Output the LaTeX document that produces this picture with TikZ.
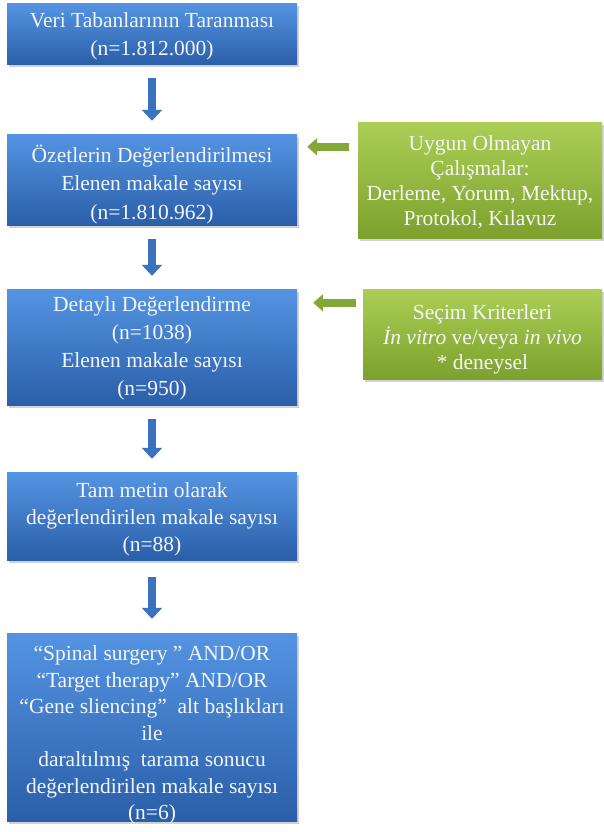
\documentclass[tikz,border=0pt]{standalone}
\usepackage{fontspec}
\setmainfont{Liberation Serif}
\newfontfamily\tnrfont{Liberation Serif}
\usetikzlibrary{calc,arrows.meta,shadows}
\definecolor{bluetop}{RGB}{84,148,226}
\definecolor{bluebot}{RGB}{42,94,168}
\definecolor{greentop}{RGB}{172,206,86}
\definecolor{greenbot}{RGB}{124,160,44}
\definecolor{txtc}{RGB}{244,246,250}
\definecolor{barrowc}{RGB}{58,114,190}
\definecolor{garrowc}{RGB}{132,168,56}
\begin{document}
\begin{tikzpicture}[x=1pt,y=1pt,
  bluebox/.style={draw=none, top color=bluetop, bottom color=bluebot, inner sep=0pt,
    drop shadow={shadow xshift=1.5pt, shadow yshift=-2.5pt, opacity=0.35}},
  greenbox/.style={bluebox, top color=greentop, bottom color=greenbot},
  boxtext/.style={text=txtc, align=center, inner sep=0pt, font=\tnrfont\fontsize{21.5}{28}\selectfont},
  greentext/.style={boxtext, font=\tnrfont\fontsize{21.5}{25}\selectfont},
  barrow/.style={line width=8pt, draw=barrowc, -{Triangle[width=20pt,length=11pt]}},
  garrow/.style={line width=8pt, draw=garrowc, -{Triangle[width=17pt,length=10pt]}}]
\useasboundingbox[fill=white] (0,0) rectangle (604,832);

\node[bluebox, minimum width=290pt, minimum height=61pt] (b1) at (152,797.5) {};
\node[bluebox, minimum width=290pt, minimum height=91pt] (b2) at (152,651.5) {};
\node[bluebox, minimum width=290pt, minimum height=116pt] (b3) at (152,484) {};
\node[bluebox, minimum width=290pt, minimum height=88pt] (b4) at (152,315) {};
\node[bluebox, minimum width=290pt, minimum height=188pt] (b5) at (152,104) {};
\node[greenbox, minimum width=244pt, minimum height=116pt] (g1) at (480,651) {};
\node[greenbox, minimum width=239pt, minimum height=90pt] (g2) at (482.5,497) {};

\node[boxtext] (t1) at ($(b1.center)+(0,-2)$)
  {Veri Tabanlarının Taranması\\(n=1.812.000)};
\node[boxtext, font=\tnrfont\fontsize{21.5}{28.5}\selectfont] (t2) at ($(b2.center)+(0,-4)$)
  {Özetlerin Değerlendirilmesi\\Elenen makale sayısı\\(n=1.810.962)};
\node[boxtext] (t3) at ($(b3.center)+(0,-0.5)$)
  {Detaylı Değerlendirme\\(n=1038)\\Elenen makale sayısı\\(n=950)};
\node[boxtext, font=\tnrfont\fontsize{21.5}{27}\selectfont] (t4) at ($(b4.center)+(0,-2)$)
  {Tam metin olarak\\değerlendirilen makale sayısı\\(n=88)};
\node[boxtext, font=\tnrfont\fontsize{21.5}{26.5}\selectfont] (t5) at ($(b5.center)+(0,-7)$)
  {“Spinal surgery ” AND/OR\\“Target therapy” AND/OR\\“Gene sliencing”\ \ alt başlıkları\\ile\\daraltılmış\ \ tarama sonucu\\değerlendirilen makale sayısı\\(n=6)};
\node[greentext] (t6) at ($(g1.center)+(0,-1)$)
  {Uygun Olmayan\\Çalışmalar:\\Derleme, Yorum, Mektup,\\Protokol, Kılavuz};
\node[greentext] (t7) at ($(g2.center)+(0,-4)$)
  {Seçim Kriterleri\\\textit{İn vitro} ve/veya \textit{in vivo}\\* deneysel};

\draw[barrow] ($(b1.south)+(0,-13)$) -- ($(b2.north)+(0,14)$);
\draw[barrow] ($(b2.south)+(0,-13)$) -- ($(b3.north)+(0,14)$);
\draw[barrow] ($(b3.south)+(0,-13)$) -- ($(b4.north)+(0,14)$);
\draw[barrow] ($(b4.south)+(0,-16)$) -- ($(b5.north)+(0,15)$);

\draw[garrow] ($(g1.north west)+(-9,-24)$) -- ($(b2.north east)+(10,-12)$);
\draw[garrow] ($(g2.north west)+(-7,-13)$) -- ($(b3.north east)+(16,-13)$);
\end{tikzpicture}
\end{document}
